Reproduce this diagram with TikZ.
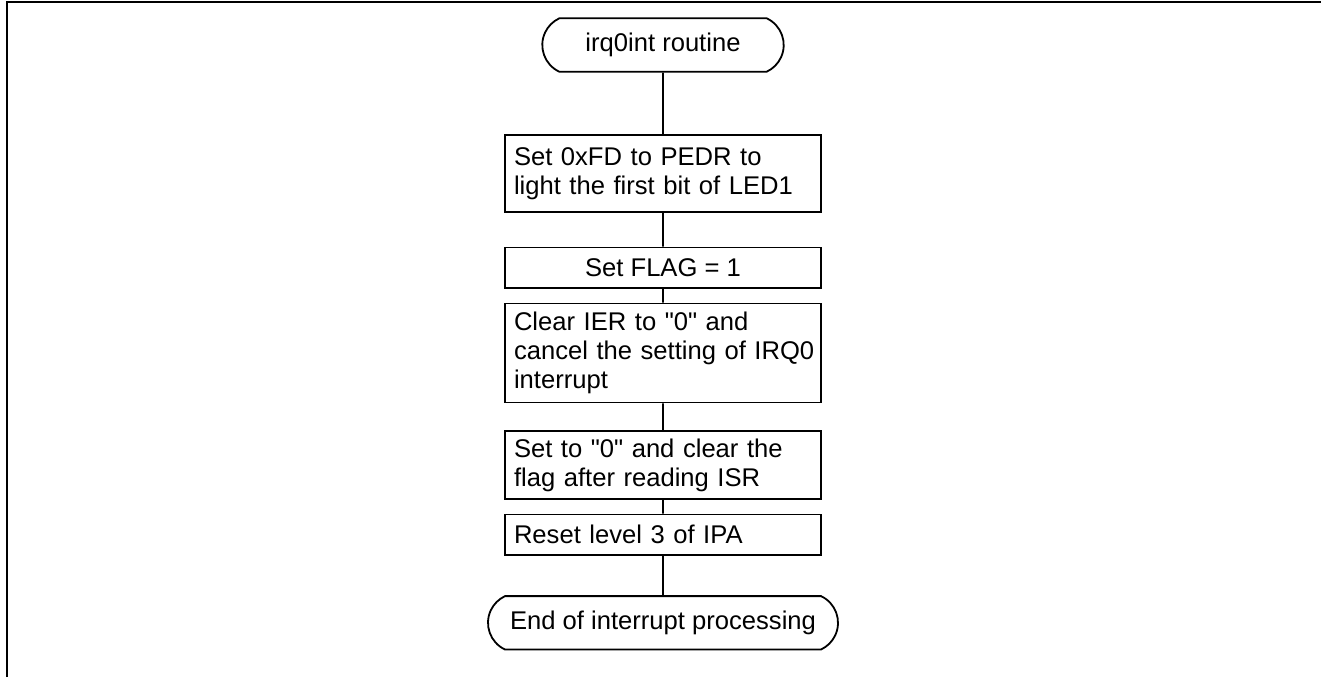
\documentclass[tikz,border=0pt]{standalone}
\usepackage{fontspec}
\setmainfont[Ligatures=TeXOff]{Liberation Sans}
\usetikzlibrary{shapes,shapes.misc}
\tikzset{
  grow=down,
  level 1/.style={level distance=64.2pt},
  level 2/.style={level distance=47.1pt},
  level 3/.style={level distance=42.7pt},
  level 4/.style={level distance=56pt},
  level 5/.style={level distance=34.8pt},
  level 6/.style={level distance=44.1pt},
  edge from parent/.style={draw, line width=0.9pt},
  treenode/.style = {inner sep=0pt, font=\fontsize{12.8}{14.5}\selectfont, draw=black, line width=0.9pt},
  term_n/.style = {treenode, rounded rectangle, rounded rectangle arc length=130, minimum height=26.7pt, align=center},
  box_l/.style = {treenode, rectangle, inner xsep=4.5pt, text width=149pt, align=left},
  box_c/.style = {treenode, rectangle, minimum width=158pt, align=center}
}

\begin{document}
\begin{tikzpicture}
	\useasboundingbox (0,0) rectangle (660.5pt,-338.5pt);
	\draw [line width=1pt] (3.45pt,-338.5pt) -- (3.45pt,-0.9pt) -- (660.5pt,-0.9pt);
	\node [term_n, minimum width=120.7pt] (start) at (331.5pt,-22.5pt) {irq0int routine}
		child{ node [box_l, minimum height=38.3pt] (pedr) {Set 0xFD to PEDR to\\light the first bit of LED1}
			child{ node [box_c, minimum height=20.2pt] (flag) {Set FLAG = 1}
				child{ node [box_l, minimum height=49.5pt] (ier) {Clear IER to "0" and\\\mbox{cancel the setting of IRQ0}\\interrupt}
					child{ node [box_l, minimum height=33.7pt] (isr) {Set to "0" and clear the\\flag after reading ISR}
						child{ node [box_l, minimum height=20.2pt] (ipa) {Reset level 3 of IPA}
							child{ node [term_n, minimum width=175pt] (finish) {End of interrupt processing}}
						}
					}
				}
			}
		};
\end{tikzpicture}
\end{document}
